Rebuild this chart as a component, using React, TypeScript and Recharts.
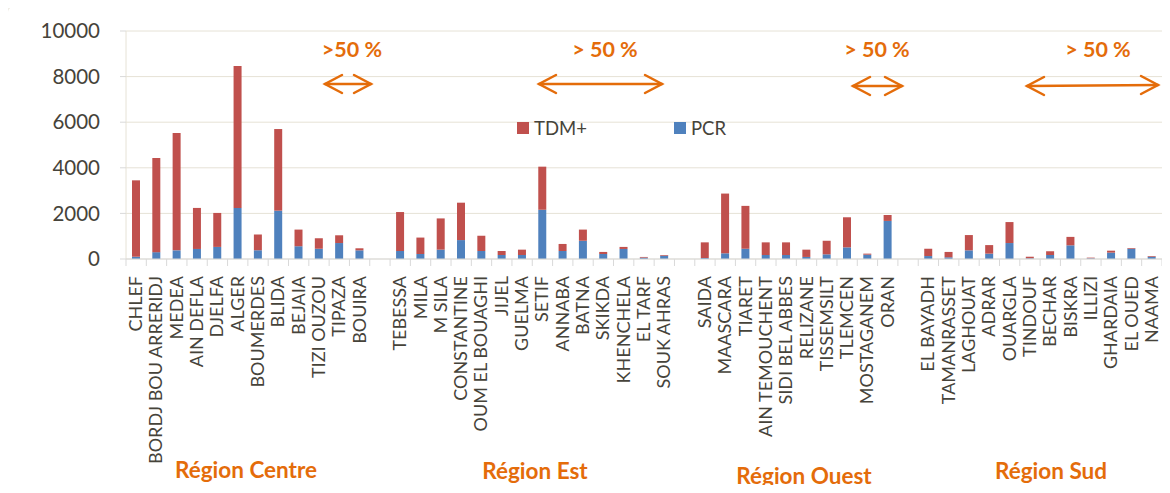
import { BarChart, Bar, XAxis, YAxis, CartesianGrid } from "recharts";

// wilayas grouped by region, blank entries are the gaps between regions
const wilayas = [
  "CHLEF", "BORDJ BOU ARRERIDJ", "MEDEA", "AIN DEFLA", "DJELFA", "ALGER", "BOUMERDES", "BLIDA", "BEJAIA", "TIZI OUZOU", "TIPAZA", "BOUIRA",
  " ",
  "TEBESSA", "MILA", "M SILA", "CONSTANTINE", "OUM EL BOUAGHI", "JIJEL", "GUELMA", "SETIF", "ANNABA", "BATNA", "SKIKDA", "KHENCHELA", "EL TARF", "SOUK AHRAS",
  "  ",
  "SAIDA", "MAASCARA", "TIARET", "AIN TEMOUCHENT", "SIDI BEL ABBES", "RELIZANE", "TISSEMSILT", "TLEMCEN", "MOSTAGANEM", "ORAN",
  "   ",
  "EL BAYADH", "TAMANRASSET", "LAGHOUAT", "ADRAR", "OUARGLA", "TINDOUF", "BECHAR", "BISKRA", "ILLIZI", "GHARDAIA", "EL OUED", "NAAMA",
];

const pcr = [
  100, 300, 380, 440, 530, 2240, 380, 2120, 560, 450, 700, 380,
  null,
  350, 220, 410, 830, 350, 175, 175, 2160, 350, 800, 220, 440, 60, 145,
  null,
  45, 250, 450, 175, 175, 90, 205, 510, 190, 1670,
  null,
  130, 75, 380, 235, 700, 30, 175, 600, 30, 280, 450, 100,
];

const tdm = [
  3350, 4130, 5150, 1800, 1490, 6230, 700, 3580, 730, 460, 340, 90,
  null,
  1710, 720, 1370, 1640, 670, 175, 235, 1890, 310, 490, 90, 90, 30, 30,
  null,
  685, 2620, 1880, 555, 555, 320, 595, 1320, 45, 260,
  null,
  320, 235, 670, 375, 920, 70, 165, 370, 30, 85, 30, 30,
];

const yTicks = [0, 2000, 4000, 6000, 8000, 10000];

const regions = [
  { label: "Région Centre", x: 246, y: 478 },
  { label: "Région Est", x: 535, y: 479 },
  { label: "Région Ouest", x: 804, y: 484 },
  { label: "Région Sud", x: 1051, y: 479 },
];

const arrows = [
  { label: ">50 %", tx: 352, x1: 325, x2: 371, y1: 84, y2: 84 },
  { label: "> 50 %", tx: 605, x1: 539, x2: 662, y1: 84, y2: 84 },
  { label: "> 50 %", tx: 877, x1: 853, x2: 902, y1: 86, y2: 86 },
  { label: "> 50 %", tx: 1098, x1: 1027, x2: 1158, y1: 86, y2: 85 },
];

const data = wilayas.map((name, i) => ({ name, pcr: pcr[i], tdm: tdm[i] }));

const W = 1170;
const H = 493;
const PLOT_LEFT = 126;
const PLOT_RIGHT = 1162;
const BAND = (PLOT_RIGHT - PLOT_LEFT) / wilayas.length;
const ORANGE = "#E46C0A";
const TEXT = "#46433a";
const FONT = "Lato, 'Open Sans', sans-serif";

function WilayaTick(props: any) {
  const { x, y, payload, index } = props;
  const tx = x + 6;
  const ty = y + 17;
  return (
    <g>
      <line x1={x - BAND / 2} x2={x - BAND / 2} y1={y} y2={y + 7} stroke="#d9d9d9" />
      {index === wilayas.length - 1 && (
        <line x1={x + BAND / 2} x2={x + BAND / 2} y1={y} y2={y + 7} stroke="#d9d9d9" />
      )}
      <text
        x={tx}
        y={ty}
        transform={`rotate(-90, ${tx}, ${ty})`}
        textAnchor="end"
        fill={TEXT}
        fontSize={18}
        fontFamily={FONT}
      >
        {payload.value.trim()}
      </text>
    </g>
  );
}

function Arrow({ x1, x2, y1, y2 }: { x1: number; x2: number; y1: number; y2: number }) {
  const hl = 17;
  const hw = 9;
  return (
    <g stroke={ORANGE} strokeWidth={2.5} fill="none" strokeLinecap="round">
      <line x1={x1} y1={y1} x2={x2} y2={y2} />
      <polyline points={`${x1 + hl},${y1 - hw} ${x1},${y1} ${x1 + hl},${y1 + hw}`} />
      <polyline points={`${x2 - hl},${y2 - hw} ${x2},${y2} ${x2 - hl},${y2 + hw}`} />
    </g>
  );
}

export default function App() {
  return (
    <div style={{ position: "relative", width: W, height: H, margin: -8, background: "#fff", overflow: "hidden", fontFamily: FONT }}>
      <div
        style={{
          position: "absolute",
          left: 7,
          top: 6,
          width: W,
          height: H,
          border: "1.5px solid #e6e2d6",
          borderRadius: 6,
        }}
      />
      <BarChart
        width={W}
        height={H}
        data={data}
        margin={{ top: 31, right: W - PLOT_RIGHT, bottom: 0, left: 0 }}
        barSize={8}
      >
        <CartesianGrid vertical={false} stroke="#e6e2d6" />
        <YAxis
          width={PLOT_LEFT}
          domain={[0, 10000]}
          ticks={yTicks}
          interval={0}
          axisLine={{ stroke: "#e6e2d6" }}
          tickLine={{ stroke: "#d9d9d9" }}
          tickSize={6}
          tickMargin={20}
          tick={{ fill: TEXT, fontSize: 20.5, fontFamily: FONT }}
        />
        <XAxis
          dataKey="name"
          height={H - 31 - 228}
          interval={0}
          tickLine={false}
          tickSize={0}
          tickMargin={0}
          axisLine={{ stroke: "#d9d9d9" }}
          tick={<WilayaTick />}
        />
        <Bar dataKey="pcr" name="PCR" stackId="a" fill="#4F81BD" isAnimationActive={false} />
        <Bar dataKey="tdm" name="TDM+" stackId="a" fill="#C0504D" isAnimationActive={false} />
      </BarChart>

      <div style={{ position: "absolute", left: 517, top: 117, display: "flex", alignItems: "center", fontSize: 18.5, color: TEXT }}>
        <span style={{ width: 12, height: 12, background: "#C0504D", marginRight: 5 }} />
        <span>TDM+</span>
      </div>
      <div style={{ position: "absolute", left: 674, top: 117, display: "flex", alignItems: "center", fontSize: 18.5, color: TEXT }}>
        <span style={{ width: 12, height: 12, background: "#4F81BD", marginRight: 5 }} />
        <span>PCR</span>
      </div>

      <svg width={W} height={H} style={{ position: "absolute", left: 0, top: 0, pointerEvents: "none" }}>
        {arrows.map((a, i) => (
          <g key={i}>
            <text x={a.tx} y={57} textAnchor="middle" fill={ORANGE} fontSize={21.5} fontWeight={700} fontFamily={FONT}>
              {a.label}
            </text>
            <Arrow x1={a.x1} x2={a.x2} y1={a.y1} y2={a.y2} />
          </g>
        ))}
        {regions.map((r) => (
          <text key={r.label} x={r.x} y={r.y} textAnchor="middle" fill={ORANGE} fontSize={22.5} fontWeight={700} fontFamily={FONT}>
            {r.label}
          </text>
        ))}
      </svg>
    </div>
  );
}
